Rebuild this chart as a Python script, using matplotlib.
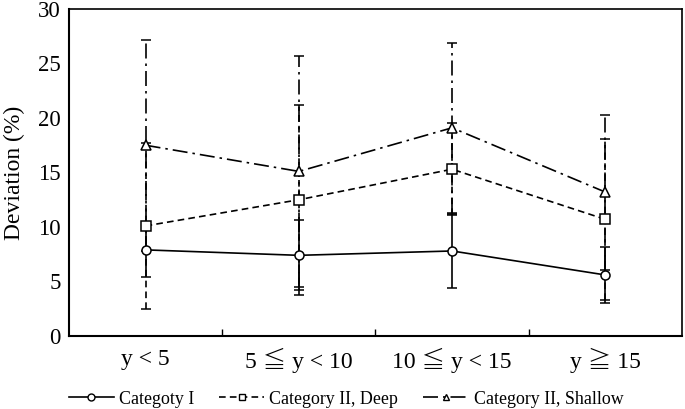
import matplotlib
matplotlib.use('Agg')
import matplotlib.pyplot as plt
from matplotlib.lines import Line2D
import numpy as np

plt.rcParams['font.family'] = ['Liberation Serif', 'Noto Sans CJK JP', 'DejaVu Serif']

categories = ['y < 5', '5 \u2266 y < 10', '10 \u2266 y < 15', 'y \u2267 15']

cat1_mean = [7.9, 7.4, 7.8, 5.6]
cat1_err = [2.5, 3.2, 3.4, 2.6]
deep_mean = [10.1, 12.5, 15.3, 10.7]
deep_err = [7.6, 8.7, 4.2, 7.4]
shallow_mean = [17.5, 15.1, 19.1, 13.2]
shallow_err = [9.7, 10.6, 7.8, 7.1]

series = [
    ('Categoty I', cat1_mean, cat1_err, 'o', '-'),
    ('Category II, Deep', deep_mean, deep_err, 's', (0, (4, 2.5))),
    ('Category II, Shallow', shallow_mean, shallow_err, '^', (0, (9, 3, 1.5, 3))),
]

fig = plt.figure(figsize=(6.85, 4.09), dpi=100)
ax = fig.add_axes([0.1007, 0.1785, 0.8949, 0.7995])

x = np.arange(1, len(categories) + 1)
for label, mean, err, marker, ls in reversed(series):
    eb = ax.errorbar(x, mean, yerr=err, color='black', lw=1.2, ls=ls,
                     marker=marker, ms=6.5, mfc='white', mec='black', mew=1.1,
                     capsize=3.5, capthick=1.1, elinewidth=1.2)
    eb[2][0].set_linestyle(ls)

ax.set_xlim(0.5, 4.5)
ax.set_ylim(0, 30)
ax.set_yticks([0, 5, 10, 15, 20, 25, 30])
ax.tick_params(axis='y', length=0, labelsize=16.5, pad=6)
ax.set_xticks([1.5, 2.5, 3.5])
ax.set_xticklabels([])
ax.tick_params(axis='x', direction='in', length=5, width=1)
for xi, c in zip(x, categories):
    ax.text(xi, -2.2, c, ha='center', va='center', fontsize=17, fontweight='light')

ax.set_ylabel('Deviation (%)', fontsize=17, labelpad=9)
ax.spines['left'].set_linewidth(1.5)
ax.spines['bottom'].set_linewidth(1.5)
ax.spines['top'].set_linewidth(1.2)
ax.spines['right'].set_linewidth(1.2)

proxies = [Line2D([], [], color='black', lw=1.2, ls=ls, marker=marker, ms=5,
                  mfc='white', mec='black', mew=1.0)
           for _, _, _, marker, ls in series]
fig.legend(handles=proxies, labels=[s[0] for s in series], loc='center',
           bbox_to_anchor=(0.505, 0.024), ncol=3, frameon=False, fontsize=12.9,
           handlelength=2.5, handletextpad=0.3, columnspacing=1.4)

fig.savefig('out.png', dpi=100)
